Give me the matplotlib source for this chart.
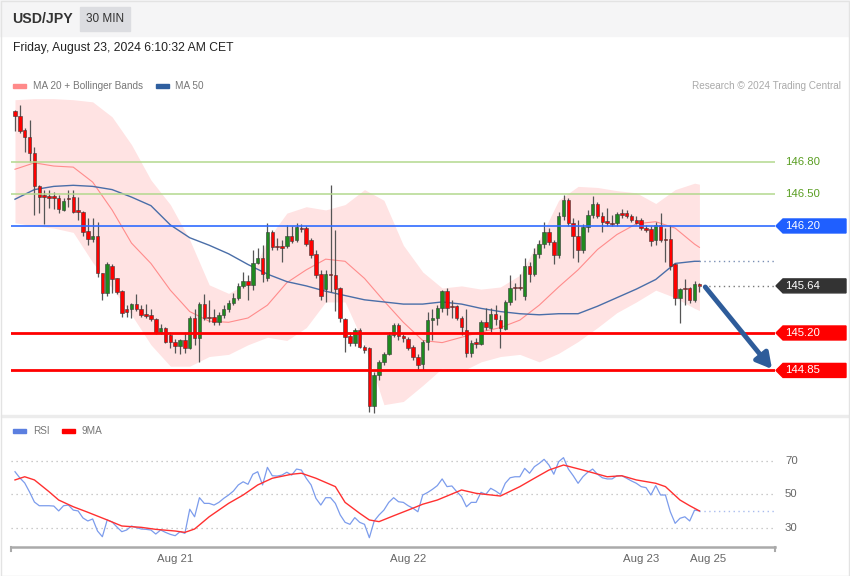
import matplotlib
matplotlib.use("Agg")
import matplotlib.pyplot as plt
import matplotlib.transforms as mtransforms
from matplotlib.patches import Rectangle, Polygon
import numpy as np

plt.rcParams['font.family'] = ['Liberation Sans', 'DejaVu Sans']

# 30 min candles, Aug 20 07:30 CET -> Aug 23 06:00 CET
opens = [147.27, 147.23, 147.10, 147.03, 146.88, 146.57, 146.49, 146.48, 146.48, 146.46,
         146.35, 146.46, 146.47, 146.35, 146.33, 146.15, 146.08, 146.11, 145.76, 145.57,
         145.83, 145.71, 145.59, 145.42, 145.42, 145.47, 145.42, 145.38, 145.37, 145.33,
         145.20, 145.25, 145.18, 145.12, 145.08, 145.13, 145.06, 145.34, 145.15, 145.47,
         145.35, 145.35, 145.30, 145.37, 145.42, 145.48, 145.53, 145.64, 145.69, 145.65,
         145.85, 145.90, 145.71, 146.14, 146.01, 146.01, 146.01, 146.11, 146.07, 146.18,
         146.18, 146.07, 145.94, 145.75, 145.61, 145.75, 145.74, 145.62, 145.33, 145.17,
         145.11, 145.23, 145.07, 145.06, 144.52, 144.81, 144.93, 145.00, 145.18, 145.27,
         145.17, 145.14, 145.07, 144.98, 144.91, 145.12, 145.32, 145.34, 145.43, 145.59,
         145.45, 145.45, 145.34, 145.23, 145.01, 145.11, 145.10, 145.30, 145.25, 145.38,
         145.32, 145.24, 145.49, 145.63, 145.63, 145.55, 145.83, 145.75, 145.94, 146.03,
         146.14, 146.05, 145.93, 146.29, 146.44, 146.23, 146.11, 145.98, 146.19, 146.30,
         146.41, 146.29, 146.25, 146.23, 146.23, 146.32, 146.32, 146.29, 146.26, 146.26,
         146.18, 146.17, 146.07, 146.21, 146.08, 146.08, 145.84, 145.53, 145.62, 145.62,
         145.51, 145.66]
highs = [147.28, 147.33, 147.12, 147.19, 146.94, 146.58, 146.54, 146.54, 146.52, 146.49,
         146.46, 146.54, 146.54, 146.47, 146.34, 146.27, 146.27, 146.24, 145.76, 145.86,
         145.84, 145.71, 145.60, 145.46, 145.48, 145.56, 145.46, 145.47, 145.42, 145.34,
         145.28, 145.26, 145.21, 145.14, 145.14, 145.21, 145.36, 145.42, 145.49, 145.56,
         145.51, 145.42, 145.40, 145.46, 145.51, 145.57, 145.67, 145.77, 145.74, 145.98,
         145.99, 146.02, 146.23, 146.16, 146.09, 146.07, 146.21, 146.20, 146.23, 146.22,
         146.20, 146.09, 145.98, 145.79, 145.79, 146.58, 146.16, 145.63, 145.34, 145.21,
         145.25, 145.25, 145.09, 145.07, 144.84, 144.95, 145.02, 145.21, 145.29, 145.29,
         145.19, 145.16, 145.09, 145.00, 145.13, 145.40, 145.42, 145.46, 145.60, 145.62,
         145.51, 145.46, 145.36, 145.42, 145.13, 145.15, 145.32, 145.43, 145.43, 145.46,
         145.37, 145.51, 145.74, 145.67, 145.75, 145.90, 145.86, 145.99, 146.07, 146.24,
         146.18, 146.07, 146.33, 146.49, 146.46, 146.27, 146.26, 146.22, 146.35, 146.48,
         146.42, 146.33, 146.37, 146.30, 146.33, 146.36, 146.35, 146.31, 146.29, 146.27,
         146.21, 146.20, 146.24, 146.32, 146.18, 146.21, 145.85, 145.62, 145.70, 145.63,
         145.69, 145.67]
lows = [147.09, 147.07, 146.89, 146.80, 146.30, 146.32, 146.22, 146.37, 146.36, 146.32,
        146.34, 146.38, 146.32, 146.26, 146.11, 146.02, 146.05, 145.72, 145.51, 145.55,
        145.57, 145.56, 145.35, 145.35, 145.34, 145.41, 145.35, 145.34, 145.31, 145.19,
        145.19, 145.11, 145.06, 145.01, 145.00, 145.01, 145.05, 145.09, 144.93, 145.32,
        145.30, 145.27, 145.27, 145.34, 145.40, 145.46, 145.51, 145.62, 145.51, 145.60,
        145.84, 145.68, 145.69, 145.98, 145.98, 145.86, 145.99, 146.04, 146.05, 146.14,
        146.01, 145.90, 145.71, 145.51, 145.49, 145.58, 145.41, 145.30, 145.02, 145.08,
        145.08, 145.06, 145.01, 144.46, 144.45, 144.76, 144.90, 144.99, 145.16, 145.13,
        145.12, 145.04, 144.95, 144.85, 144.85, 145.04, 145.13, 145.27, 145.40, 145.37,
        145.34, 145.32, 145.18, 144.98, 144.98, 145.06, 145.09, 145.23, 145.21, 145.27,
        145.06, 145.23, 145.46, 145.51, 145.60, 145.51, 145.68, 145.73, 145.90, 145.99,
        146.02, 145.84, 145.90, 146.26, 146.20, 145.90, 145.86, 145.95, 146.14, 146.27,
        146.27, 146.14, 146.20, 146.20, 146.20, 146.27, 146.27, 146.24, 146.22, 146.16,
        146.14, 146.01, 146.02, 146.05, 145.86, 145.79, 145.46, 145.29, 145.46, 145.48,
        145.49, 145.58]
closes = [147.23, 147.09, 147.03, 146.88, 146.57, 146.47, 146.47, 146.46, 146.46, 146.36,
          146.43, 146.45, 146.33, 146.33, 146.14, 146.08, 146.11, 145.76, 145.57, 145.84,
          145.70, 145.58, 145.39, 145.40, 145.47, 145.42, 145.37, 145.36, 145.33, 145.20,
          145.25, 145.12, 145.12, 145.08, 145.13, 145.06, 145.34, 145.15, 145.47, 145.34,
          145.34, 145.30, 145.37, 145.42, 145.48, 145.53, 145.64, 145.69, 145.65, 145.85,
          145.90, 145.75, 146.14, 146.00, 146.00, 145.99, 146.11, 146.06, 146.19, 146.17,
          146.03, 145.93, 145.74, 145.55, 145.75, 145.74, 145.61, 145.34, 145.16, 145.11,
          145.23, 145.07, 145.04, 144.52, 144.81, 144.93, 145.00, 145.18, 145.27, 145.17,
          145.15, 145.06, 144.98, 144.90, 145.12, 145.32, 145.34, 145.43, 145.59, 145.43,
          145.44, 145.34, 145.26, 145.01, 145.11, 145.10, 145.30, 145.26, 145.38, 145.33,
          145.25, 145.49, 145.62, 145.62, 145.62, 145.83, 145.75, 145.94, 146.03, 146.14,
          146.05, 145.93, 146.29, 146.44, 146.23, 146.11, 145.98, 146.19, 146.30, 146.41,
          146.29, 146.24, 146.23, 146.22, 146.31, 146.30, 146.29, 146.26, 146.23, 146.18,
          146.16, 146.06, 146.21, 146.07, 146.07, 145.83, 145.53, 145.61, 145.61, 145.51,
          145.66, 145.64]

# indicator lines, read every 4th candle
line_idx = [0, 4, 8, 12, 16, 20, 24, 28, 32, 36, 40, 44, 48, 52, 56, 60, 64, 68, 72,
            76, 80, 84, 88, 92, 96, 100, 104, 108, 112, 116, 120, 124, 128, 132, 136, 140, 141]
ma20 = [146.73, 146.79, 146.76, 146.75, 146.61, 146.35, 146.04, 145.85, 145.60, 145.40,
        145.31, 145.30, 145.34, 145.46, 145.67, 145.79, 145.89, 145.87, 145.71, 145.50,
        145.30, 145.13, 145.11, 145.16, 145.21, 145.25, 145.32, 145.46, 145.63, 145.79,
        145.98, 146.12, 146.22, 146.24, 146.18, 146.03, 146.00]
bb_upper = [147.38, 147.39, 147.39, 147.38, 147.36, 147.22, 146.96, 146.63, 146.40, 146.07,
            145.65, 145.57, 145.67, 146.07, 146.32, 146.38, 146.35, 146.40, 146.54, 146.44,
            146.02, 145.77, 145.62, 145.64, 145.61, 145.63, 145.74, 146.07, 146.44, 146.57,
            146.56, 146.53, 146.51, 146.41, 146.54, 146.60, 146.59]
bb_lower = [146.23, 146.20, 146.18, 146.14, 145.86, 145.62, 145.37, 145.09, 144.89, 144.89,
            144.98, 145.00, 145.09, 145.16, 145.13, 145.25, 145.49, 145.49, 145.09, 144.53,
            144.56, 144.71, 144.87, 144.84, 144.93, 144.98, 145.00, 144.93, 145.01, 145.12,
            145.25, 145.39, 145.49, 145.60, 145.53, 145.43, 145.41]
ma50 = [146.45, 146.54, 146.57, 146.58, 146.57, 146.54, 146.47, 146.39, 146.21, 146.09,
        146.02, 145.94, 145.84, 145.75, 145.68, 145.64, 145.59, 145.55, 145.51, 145.49,
        145.47, 145.47, 145.49, 145.47, 145.43, 145.40, 145.38, 145.37, 145.38, 145.38,
        145.45, 145.53, 145.61, 145.70, 145.85, 145.87, 145.87]

rsi = [63.3, 59.6, 56.6, 51.2, 45.2, 43.0, 43.0, 43.0, 42.8, 39.9,
       43.0, 43.4, 40.4, 39.9, 35.7, 33.9, 35.1, 27.9, 24.5, 34.5,
       33.3, 30.3, 27.5, 28.5, 30.9, 29.9, 29.1, 28.9, 28.5, 26.1,
       28.5, 27.1, 25.9, 25.1, 27.5, 26.5, 40.9, 36.4, 47.8, 44.4,
       44.4, 43.4, 45.0, 47.4, 49.4, 51.8, 55.4, 57.3, 55.8, 61.8,
       63.3, 55.4, 65.9, 60.9, 60.7, 61.3, 63.0, 61.3, 64.9, 64.3,
       59.4, 55.4, 47.4, 43.4, 47.8, 47.8, 44.4, 37.5, 33.1, 31.9,
       35.9, 33.1, 31.9, 23.9, 33.9, 37.5, 40.4, 45.0, 47.8, 45.4,
       45.0, 43.0, 41.5, 39.4, 49.4, 50.9, 52.8, 55.0, 59.0, 54.4,
       54.8, 51.4, 48.4, 42.4, 45.0, 45.0, 51.0, 49.8, 53.4, 51.8,
       49.8, 56.4, 59.7, 60.3, 60.3, 65.3, 62.4, 66.3, 68.3, 70.7,
       67.3, 61.8, 69.3, 71.7, 64.9, 60.9, 56.4, 60.3, 63.0, 64.9,
       61.8, 59.7, 59.0, 59.0, 60.9, 60.9, 59.4, 57.8, 56.4, 54.4,
       53.8, 49.4, 55.0, 49.4, 49.4, 39.4, 32.5, 35.5, 36.4, 33.9,
       40.4, 39.9]
ma9_idx = [0, 2, 4, 7, 9, 12, 15, 19, 22, 26, 29, 33, 35, 37, 40, 44, 47, 50, 53, 57,
           59, 62, 66, 68, 71, 73, 75, 78, 81, 84, 87, 92, 95, 100, 104, 107, 110, 113,
           117, 122, 125, 128, 132, 134, 137, 139, 141]
ma9 = [58.4, 60.3, 58.4, 51.4, 46.4, 42.4, 39.1, 34.5, 30.9, 30.1, 28.9, 27.9, 27.1, 29.1,
       36.4, 44.4, 49.4, 55.4, 59.4, 61.8, 62.4, 59.4, 54.4, 45.0, 38.5, 34.5, 33.5, 37.0,
       40.4, 43.9, 46.4, 52.4, 50.4, 48.8, 54.4, 59.4, 64.3, 67.3, 64.3, 60.3, 60.9, 58.4,
       56.4, 54.4, 46.4, 43.0, 39.9]

levels_green = [146.80, 146.50]
level_blue = 146.20
last_price = 145.64
levels_red = [145.20, 144.85]
rsi_levels = [70, 50, 30]
date_pos = [33, 81, 129, 142.8]
date_labels = ['Aug 21', 'Aug 22', 'Aug 23', 'Aug 25']

W, H = 850, 576
fig = plt.figure(figsize=(W / 100, H / 100), dpi=100)
fig.patch.set_facecolor('white')


def prect(x0, y0, x1, y1):
    return [x0 / W, 1 - y1 / H, (x1 - x0) / W, (y1 - y0) / H]


# header and frame
fig.patches.append(Rectangle((0, 1 - 36 / H), 1, 36 / H, transform=fig.transFigure,
                             color='#f5f5f6', zorder=0))
fig.patches.append(Rectangle((80 / W, 1 - 31 / H), 50 / W, 24 / H, transform=fig.transFigure,
                             color='#dcdde1', zorder=1))
fig.patches.append(Rectangle((0.5 / W, 0.5 / H), (W - 1.5) / W, (H - 1.5) / H, transform=fig.transFigure,
                             fill=False, edgecolor='#e3e3e3', lw=1, zorder=5))
fig.patches.append(Rectangle((1 / W, 1 - 417 / H), (W - 2) / W, 2 / H, transform=fig.transFigure,
                             color='#ececec', zorder=1))

fig.text(12 / W, 1 - 19 / H, 'USD/JPY', fontsize=10.2, fontweight='bold', color='#333333', va='center')
fig.text(105 / W, 1 - 19 / H, '30 MIN', fontsize=8.5, color='#333333', va='center', ha='center')
fig.text(13 / W, 1 - 48 / H, 'Friday, August 23, 2024 6:10:32 AM CET', fontsize=8.7,
         color='#222222', va='center')

fig.patches.append(Rectangle((13 / W, 1 - 88 / H), 13 / W, 4 / H, transform=fig.transFigure, color='#ff8a8a'))
fig.text(33 / W, 1 - 86 / H, 'MA 20 + Bollinger Bands', fontsize=7.2, color='#777777', va='center')
fig.patches.append(Rectangle((156 / W, 1 - 88 / H), 13 / W, 4 / H, transform=fig.transFigure, color='#2f5f9f'))
fig.text(175 / W, 1 - 86 / H, 'MA 50', fontsize=7.2, color='#777777', va='center')
fig.text(841 / W, 1 - 86 / H, 'Research \u00a9 2024 Trading Central', fontsize=7.2, color='#aaaaaa',
         va='center', ha='right')

fig.patches.append(Rectangle((13 / W, 1 - 433 / H), 13 / W, 4 / H, transform=fig.transFigure, color='#5b7fe0'))
fig.text(33 / W, 1 - 431 / H, 'RSI', fontsize=7.2, color='#777777', va='center')
fig.patches.append(Rectangle((62 / W, 1 - 433 / H), 13 / W, 4 / H, transform=fig.transFigure, color='#ff0000'))
fig.text(82 / W, 1 - 431 / H, '9MA', fontsize=7.2, color='#777777', va='center')

# main price panel
xmin, xmax = -0.824, 156.57
ax = fig.add_axes(prect(11, 95, 775, 415))
ax.set_xlim(xmin, xmax)
ax.set_ylim(144.4335, 147.424)
ax.axis('off')

ax.fill_between(line_idx, bb_lower, bb_upper, color='#ffe3e3', lw=0, zorder=1)
ax.plot(line_idx, ma20, color='#ff8c8c', lw=0.8, zorder=2)
ax.plot(line_idx, ma50, color='#4a6ea8', lw=1.0, zorder=2)
ax.plot([line_idx[-1], xmax], [ma50[-1], ma50[-1]], color='#7a8fb5', lw=1, ls=(0, (1, 2.5)), zorder=2)

idx = np.arange(len(closes))
o = np.array(opens)
c = np.array(closes)
body_low = np.minimum(o, c)
body_h = np.maximum(np.abs(c - o), 0.012)
cols = np.where(c >= o, '#1f8a1f', '#ff0000')
ax.vlines(idx, lows, highs, color='#555555', lw=0.9, zorder=3)
ax.bar(idx, body_h, bottom=body_low, width=0.72, color=cols, edgecolor='#3a3a3a',
       linewidth=0.4, zorder=4)

for lv in levels_green:
    ax.axhline(lv, color='#b3d88e', lw=1.1, zorder=5)
ax.axhline(level_blue, color='#2f6bff', lw=1.2, zorder=5)
for lv in levels_red:
    ax.axhline(lv, color='#ff0000', lw=2, zorder=5)
ax.plot([idx[-1], xmax], [last_price, last_price], color='#777777', lw=1, ls=(0, (1, 2.5)), zorder=5)

ax.annotate('', xy=(155.95, 144.863), xytext=(142.2, 145.63),
            arrowprops=dict(arrowstyle='-|>,head_length=0.9,head_width=0.5', color='#2e5c9a',
                            lw=3.5, shrinkA=0, shrinkB=0),
            annotation_clip=False, zorder=6)

tr = mtransforms.blended_transform_factory(fig.transFigure, ax.transData)
hh = 7 / 107.0
for lv in levels_green:
    ax.text(785 / W, lv, f'{lv:.2f}', transform=tr, color='#5a9e22', fontsize=8.2,
            va='center', ha='left', clip_on=False)


def tag(price, color):
    pts = [(776 / W, price), (783 / W, price + hh), (846 / W, price + hh),
           (846 / W, price - hh), (783 / W, price - hh)]
    ax.add_patch(Polygon(pts, closed=True, transform=tr, color=color, clip_on=False, zorder=7))
    ax.text(785 / W, price, f'{price:.2f}', transform=tr, color='white', fontsize=8.2,
            va='center', ha='left', clip_on=False, zorder=8)


tag(level_blue, '#1f5fff')
tag(last_price, '#333333')
for lv in levels_red:
    tag(lv, '#ff0000')

# RSI panel
ax2 = fig.add_axes(prect(11, 420, 775, 547))
ax2.set_xlim(xmin, xmax)
ax2.set_ylim(18.36, 94.18)
for s in ['top', 'left', 'right']:
    ax2.spines[s].set_visible(False)
ax2.spines['bottom'].set_color('#aaaaaa')
ax2.spines['bottom'].set_linewidth(1.8)
ax2.set_yticks([])
ax2.set_xticks(date_pos)
ax2.set_xticklabels(date_labels, fontsize=8.2, color='#666666')
ax2.tick_params(axis='x', length=0, pad=5)
for xe in [0, 1]:
    ax2.plot([xe, xe], [0, -0.035], transform=ax2.transAxes, color='#aaaaaa', lw=1.5, clip_on=False)

tr2 = mtransforms.blended_transform_factory(fig.transFigure, ax2.transData)
for lv in rsi_levels:
    ax2.axhline(lv, color='#bbbbbb', lw=0.9, ls=(0, (1, 3)))
    ax2.text(785 / W, lv, str(lv), transform=tr2, color='#666666', fontsize=8.2,
             va='center', ha='left', clip_on=False)

ax2.plot(np.arange(len(rsi)), rsi, color='#7c9cec', lw=0.9, zorder=3)
ax2.plot(ma9_idx, ma9, color='#ff3030', lw=1.0, zorder=4)
ax2.plot([len(rsi) - 1, xmax], [rsi[-1], rsi[-1]], color='#a9bcef', lw=1, ls=(0, (1, 2.5)), zorder=3)

fig.savefig('out.png', dpi=100, facecolor='white')
